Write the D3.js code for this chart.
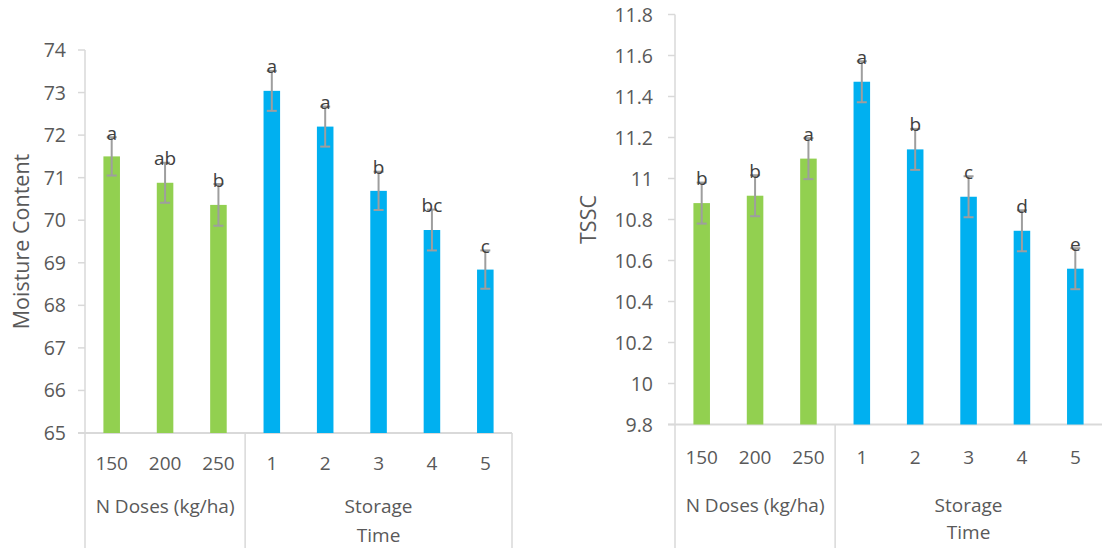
<!DOCTYPE html>
<html><head><meta charset="utf-8">
<script src="https://cdn.jsdelivr.net/npm/d3@7"></script>
<style>body{margin:0;background:#fff}svg{display:block}text{font-family:"Open Sans",sans-serif}</style>
</head><body><svg id="c" width="1105" height="548"></svg>
<script>
// ---- data ----
const categories = ["150","200","250","1","2","3","4","5"];
const groupNames = ["N Doses (kg/ha)", "Storage|Time"];
const groupSizes = [3, 5];
const moistureValues = [71.50, 70.88, 70.36, 73.04, 72.20, 70.69, 69.77, 68.84];
const moistureErrors = [0.45, 0.47, 0.49, 0.47, 0.47, 0.45, 0.48, 0.45];
const moistureLetters = ["a","ab","b","a","a","b","bc","c"];
const moistureTicks = [65,66,67,68,69,70,71,72,73,74];
const tsscValues = [10.88, 10.916, 11.097, 11.472, 11.142, 10.911, 10.745, 10.56];
const tsscErrors = [0.1, 0.1, 0.1, 0.1, 0.1, 0.1, 0.1, 0.1];
const tsscLetters = ["b","b","a","a","b","c","d","e"];
const tsscTicks = [9.8,10,10.2,10.4,10.6,10.8,11,11.2,11.4,11.6,11.8];

const svg = d3.select("#c");
const GREEN = "#92D050", BLUE = "#00B0F0", GRID = "#D9D9D9", TXT = "#595959";

function chart(cfg){
  const g = svg.append("g");
  const x = d3.scaleBand().domain(categories).range([cfg.x0, cfg.x1]).padding(0);
  const y = d3.scaleLinear().domain(cfg.domain).range([cfg.yb, cfg.yt]);
  const bw = x.bandwidth()*0.31;
  // y axis line
  g.append("line").attr("x1",cfg.x0).attr("x2",cfg.x0).attr("y1",y(cfg.domain[1])).attr("y2",cfg.yb)
    .attr("stroke",GRID).attr("stroke-width",1.5);
  // ticks
  g.selectAll(".yt").data(cfg.ticks).enter().append("line")
    .attr("x1",cfg.x0-7).attr("x2",cfg.x0).attr("y1",d=>y(d)).attr("y2",d=>y(d))
    .attr("stroke",GRID).attr("stroke-width",1.5);
  g.selectAll(".yl").data(cfg.ticks).enter().append("text")
    .attr("x",cfg.x0-cfg.labGap).attr("y",d=>y(d)).attr("dy","0.36em")
    .attr("text-anchor","end").attr("font-size",19.5).attr("fill",TXT)
    .text(d=>cfg.fmt(d));
  // x axis line
  g.append("line").attr("x1",cfg.x0-7).attr("x2",cfg.x1).attr("y1",cfg.yb).attr("y2",cfg.yb)
    .attr("stroke",GRID).attr("stroke-width",2);
  // group dividers
  let idx = 0;
  const divs = [cfg.x0];
  groupSizes.forEach(s=>{ idx += s; divs.push(idx < categories.length ? x(categories[idx]) : cfg.x1); });
  g.selectAll(".dv").data(divs.filter((d,i)=> i<divs.length-1 || cfg.drawEnd)).enter().append("line")
    .attr("x1",d=>d).attr("x2",d=>d).attr("y1",cfg.yb).attr("y2",548)
    .attr("stroke",GRID).attr("stroke-width",1.5);
  // category labels
  g.selectAll(".cl").data(categories).enter().append("text")
    .attr("x",d=>x(d)+x.bandwidth()/2).attr("y",cfg.yb+cfg.catOff)
    .attr("text-anchor","middle").attr("font-size",19).attr("fill",TXT).text(d=>d);
  // group labels
  idx = 0;
  groupNames.forEach((name,gi)=>{
    const a = divs[gi], b = divs[gi+1];
    name.split("|").forEach((line,li)=>{
      g.append("text").attr("x",(a+b)/2).attr("y",cfg.yb+cfg.grpOff[li])
        .attr("text-anchor","middle").attr("font-size",19).attr("fill",TXT).text(line);
    });
  });
  // bars
  const col = i => i < groupSizes[0] ? GREEN : BLUE;
  g.selectAll(".bar").data(cfg.values).enter().append("rect")
    .attr("x",(d,i)=>x(categories[i])+x.bandwidth()/2-bw/2).attr("width",bw)
    .attr("y",d=>y(d)).attr("height",d=>cfg.yb-y(d)).attr("fill",(d,i)=>col(i));
  // error bars
  cfg.values.forEach((v,i)=>{
    const cx = x(categories[i])+x.bandwidth()/2, e = cfg.errors[i];
    const lo = y(v-e), hi = y(v+e);
    const st = {stroke:"#9E9E9E","stroke-width":2};
    const ln = (x1,y1,x2,y2)=>{ const l=g.append("line").attr("x1",x1).attr("y1",y1).attr("x2",x2).attr("y2",y2); Object.entries(st).forEach(([k,vv])=>l.attr(k,vv)); };
    ln(cx,hi,cx,lo); ln(cx-5,hi,cx+5,hi); ln(cx-5,lo,cx+5,lo);
  });
  // letters
  g.selectAll(".lt").data(cfg.letters).enter().append("text")
    .attr("x",(d,i)=>x(categories[i])+x.bandwidth()/2)
    .attr("y",(d,i)=>y(cfg.values[i]+cfg.errors[i])+2.5)
    .attr("text-anchor","middle").attr("font-size",19).attr("fill","#404040").text(d=>d);
  // y title
  g.append("text").attr("transform",`translate(${cfg.titleX},${(cfg.yt+cfg.yb)/2}) rotate(-90)`)
    .attr("text-anchor","middle").attr("dy","0.36em").attr("font-size",cfg.titleSize).attr("fill",TXT).text(cfg.title);
}

chart({x0:85, x1:512, yt:50, yb:433, domain:[65,74], ticks:moistureTicks, fmt:d=>d,
  values:moistureValues, errors:moistureErrors, letters:moistureLetters,
  title:"Moisture Content", titleX:21, titleSize:21.5, labGap:19,
  catOff:37, grpOff:[80,109], drawEnd:true});
chart({x0:675, x1:1102, yt:14.5, yb:424.5, domain:[9.8,11.8], ticks:tsscTicks, fmt:d=>d3.format("~g")(d),
  values:tsscValues, errors:tsscErrors, letters:tsscLetters,
  title:"TSSC", titleX:588, titleSize:21.5, labGap:22,
  catOff:39, grpOff:[87,114], drawEnd:false});
</script></body></html>
